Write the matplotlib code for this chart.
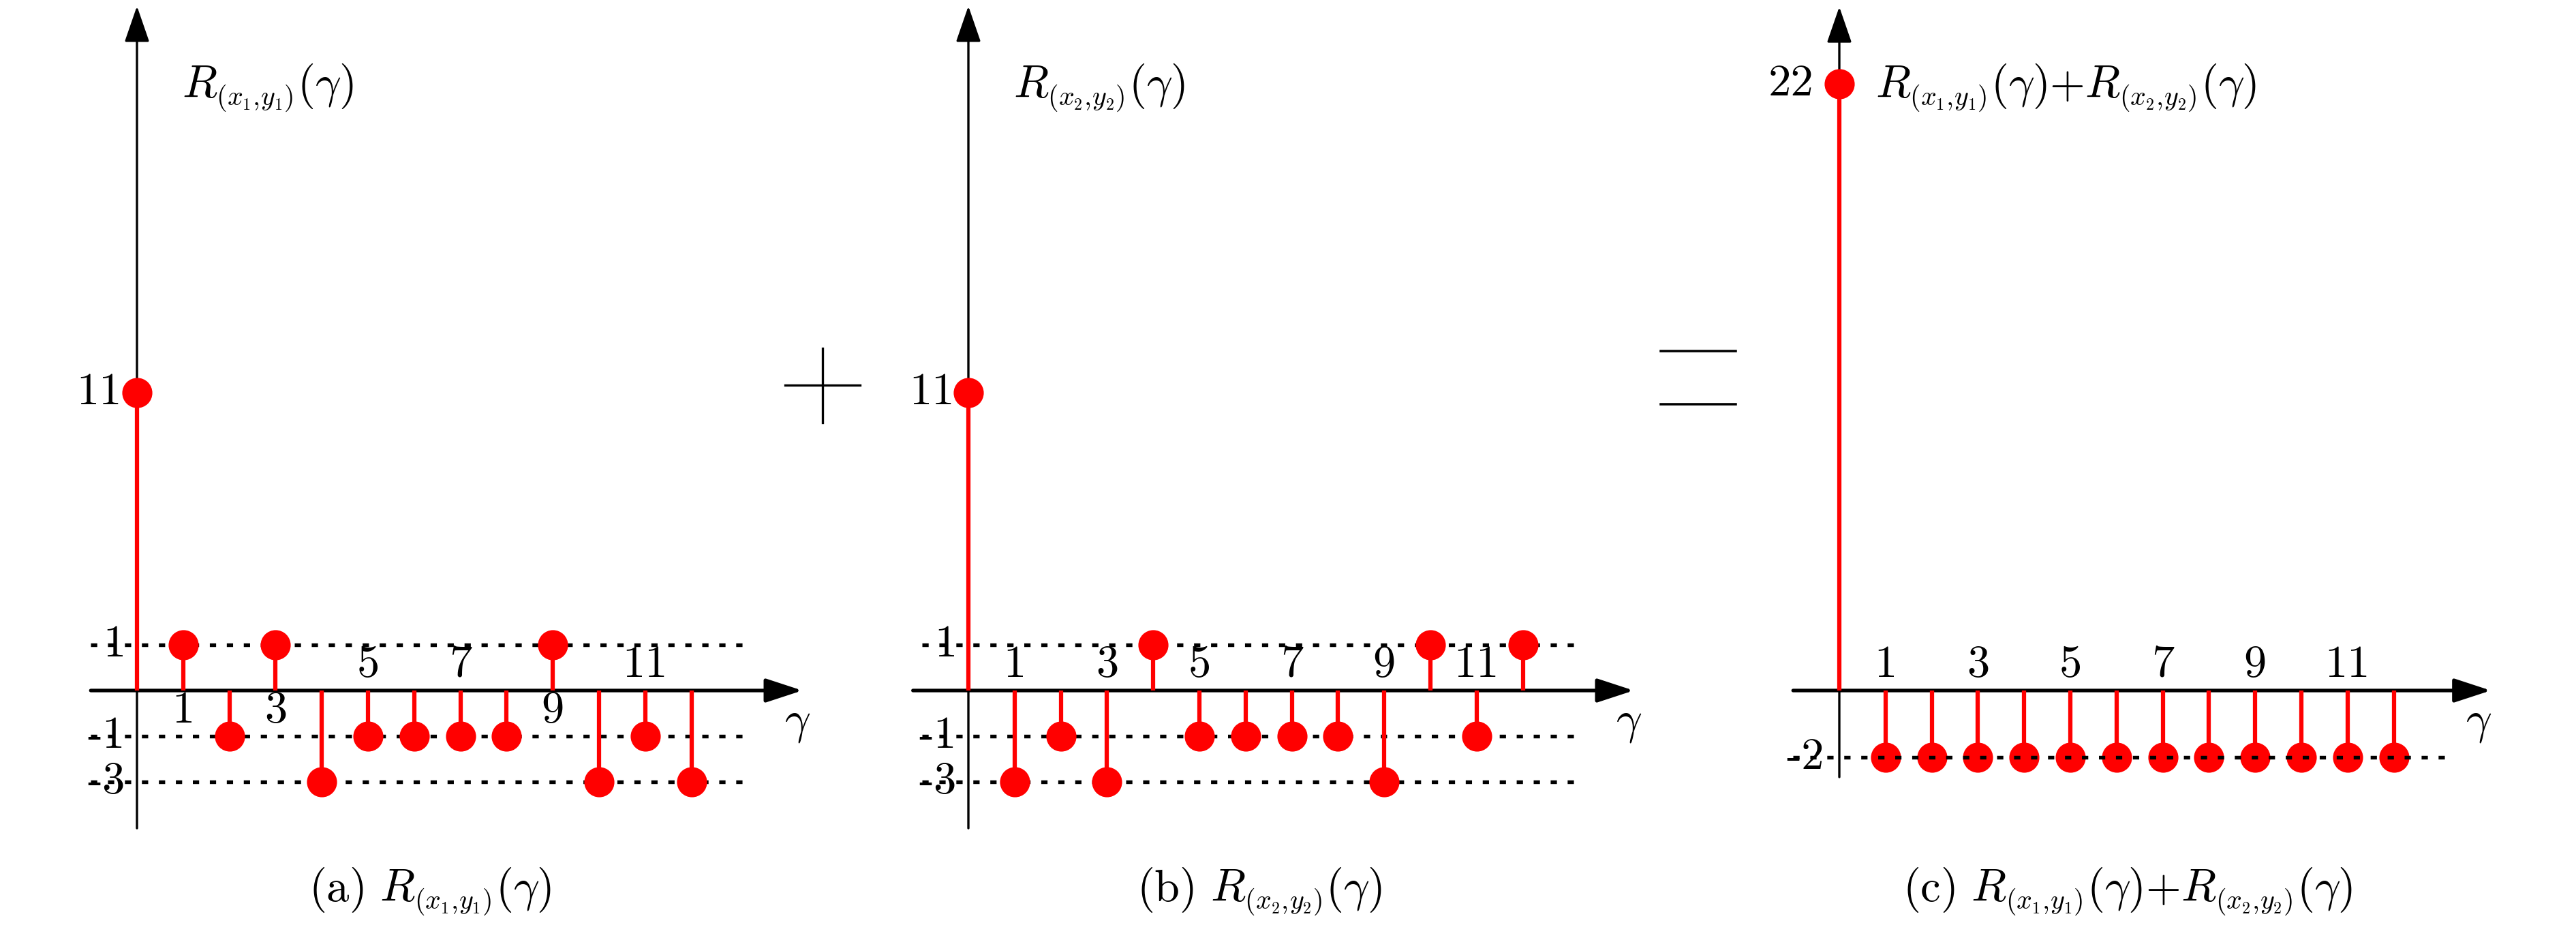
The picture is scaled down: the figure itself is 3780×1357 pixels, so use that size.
import numpy as np
import matplotlib
matplotlib.use("Agg")
import matplotlib.pyplot as plt
from matplotlib.lines import Line2D
import matplotlib._mathtext as mtext

plt.rcParams["mathtext.fontset"] = "cm"
# the reference typesets subscripts noticeably smaller than mathtext does
if hasattr(mtext, "SHRINK_FACTOR"):
    mtext.SHRINK_FACTOR = 0.6

# data
lags = list(range(13))
r_x1y1 = [11, 1, -1, 1, -3, -1, -1, -1, -1, 1, -3, -1, -3]
r_x2y2 = [11, -3, -1, -3, 1, -1, -1, -1, -1, -3, 1, -1, 1]
r_sum = [22, -2, -2, -2, -2, -2, -2, -2, -2, -2, -2, -2, -2]

xtick_vals = [1, 3, 5, 7, 9, 11]
yticks_ab = [11, 1, -1, -3]
yticks_c = [22, -2]
ylabels_ab = ["11", "1", "-1", "-3"]
ylabels_c = ["22", "-2"]
levels_ab = [1, -1, -3]
levels_c = [-2]

hdr_a = r"$R_{(x_1,\!y_1)}(\gamma)$"
hdr_b = r"$R_{(x_2,\!y_2)}(\gamma)$"
hdr_c = r"$R_{(x_1,\!y_1)}(\gamma){+}R_{(x_2,\!y_2)}(\gamma)$"
cap_a = r"$\mathrm{(a)}\ R_{(x_1,\!y_1)}(\gamma)$"
cap_b = r"$\mathrm{(b)}\ R_{(x_2,\!y_2)}(\gamma)$"
cap_c = r"$\mathrm{(c)}\ R_{(x_1,\!y_1)}(\gamma){+}R_{(x_2,\!y_2)}(\gamma)$"

W, H, DPI = 3780, 1357, 300
UNIT = 67.0      # px per "visual" y unit
ZERO_Y = 344.0   # px of the x-axis from the bottom
XU = 67.8        # px per lag


def stretch(vals, pos):
    """ Piecewise linear y mapping (the original figure is schematic). """
    v = np.asarray(vals, float)
    p = np.asarray(pos, float)
    lo = (p[1] - p[0]) / (v[1] - v[0])
    hi = (p[-1] - p[-2]) / (v[-1] - v[-2])

    def fwd(y):
        y = np.asarray(y, float)
        out = np.interp(y, v, p)
        out = np.where(y < v[0], p[0] + (y - v[0]) * lo, out)
        return np.where(y > v[-1], p[-1] + (y - v[-1]) * hi, out)

    def inv(z):
        z = np.asarray(z, float)
        out = np.interp(z, p, v)
        out = np.where(z < p[0], v[0] + (z - p[0]) / lo, out)
        return np.where(z > p[-1], v[-1] + (z - p[-1]) / hi, out)

    return fwd, inv


panels = [
    dict(vals=r_x1y1, yt=yticks_ab, yl=ylabels_ab, lev=levels_ab, org=201,
         scale=stretch([-3, -1, 0, 1, 11], [-2, -1, 0, 1, 6.52]),
         ydx=[-0.33, -0.25, -0.25, -0.25], xax=(-1.0, 14.4), yax=(0.1046, 0.9934),
         gam=14.29, hx=0.97, hdr=hdr_a, dot_top=False),
    dict(vals=r_x2y2, yt=yticks_ab, yl=ylabels_ab, lev=levels_ab, org=1421,
         scale=stretch([-3, -1, 0, 1, 11], [-2, -1, 0, 1, 6.52]),
         ydx=[-0.3, -0.25, -0.25, -0.25], xax=(-1.2, 14.4), yax=(0.1046, 0.9934),
         gam=14.29, hx=0.97, hdr=hdr_b, dot_top=False),
    dict(vals=r_sum, yt=yticks_c, yl=ylabels_c, lev=levels_c, org=2699,
         scale=stretch([-2, 0, 22], [-1.46, 0, 13.28]),
         ydx=[-0.55, -0.33], xax=(-1.0, 14.1), yax=(0.1599, 0.9926),
         gam=13.83, hx=0.78, hdr=hdr_c, dot_top=True),
]

fig = plt.figure(figsize=(W / DPI, H / DPI), dpi=DPI)

for p in panels:
    ax = fig.add_axes([(p["org"] - 101) / W, 0, 1140 / W, 1])
    fwd, inv = p["scale"]
    ax.set_yscale("function", functions=(fwd, inv))

    # dotted reference levels
    ax.hlines(p["lev"], -1.0, 13.2, colors="k", linewidth=1.3,
              linestyles=(0, (1.7, 2.9)), zorder=6 if p["dot_top"] else 2)

    markerline, stemlines, baseline = ax.stem(lags, p["vals"], bottom=0)
    markerline.set(color="red", markersize=9.6, zorder=5)
    stemlines.set(color="red", linewidth=1.5, zorder=4)
    baseline.set_visible(False)

    # axes drawn as arrows
    ax.annotate("", xy=(p["xax"][1], 0), xytext=(p["xax"][0], 0),
                arrowprops=dict(arrowstyle="-|>,head_length=1.1,head_width=0.36",
                                mutation_scale=10, lw=1.25, color="k",
                                shrinkA=0, shrinkB=0), zorder=3)
    ax.annotate("", xy=(0, p["yax"][1]), xytext=(0, p["yax"][0]),
                xycoords=ax.get_xaxis_transform(),
                arrowprops=dict(arrowstyle="-|>,head_length=1.1,head_width=0.38",
                                mutation_scale=10, lw=0.8, color="k",
                                shrinkA=0, shrinkB=0), zorder=3)

    for v, lab, dx in zip(p["yt"], p["yl"], p["ydx"]):
        ax.text(dx, v, lab, ha="right", va="center", fontsize=16, family="cmr10")

    for g in xtick_vals:
        up = p["vals"][g] < 0
        ax.annotate(str(g), xy=(g, 0), xytext=(0, 8.9 if up else -7.2),
                    textcoords="offset points", ha="center", va="center",
                    fontsize=16, family="cmr10")

    ax.annotate(r"$\gamma$", xy=(p["gam"], 0), xytext=(0, -11),
                textcoords="offset points", ha="center", va="center", fontsize=16)
    ax.text(p["hx"], 0.8946, p["hdr"], transform=ax.get_xaxis_transform(),
            ha="left", va="baseline", fontsize=16)

    ax.set_xlim(-101 / XU, 1039 / XU)
    ax.set_ylim(float(inv(-ZERO_Y / UNIT)), float(inv((H - ZERO_Y) / UNIT)))
    ax.axis("off")

# captions
for cx, cap in zip([631, 1848, 3122], [cap_a, cap_b, cap_c]):
    fig.text(cx / W, (H - 1323) / H, cap, ha="center", va="baseline", fontsize=16)

# plus and equals signs between the panels
def seg(x0, y0, x1, y1, lw=0.8):
    fig.add_artist(Line2D([x0 / W, x1 / W], [1 - y0 / H, 1 - y1 / H],
                          transform=fig.transFigure, color="k", lw=lw))

seg(1152, 565, 1262, 565)
seg(1207, 511, 1207, 620)
seg(2437, 515, 2547, 515, 0.85)
seg(2437, 593, 2547, 593, 0.85)

fig.savefig("out.png", dpi=DPI)
